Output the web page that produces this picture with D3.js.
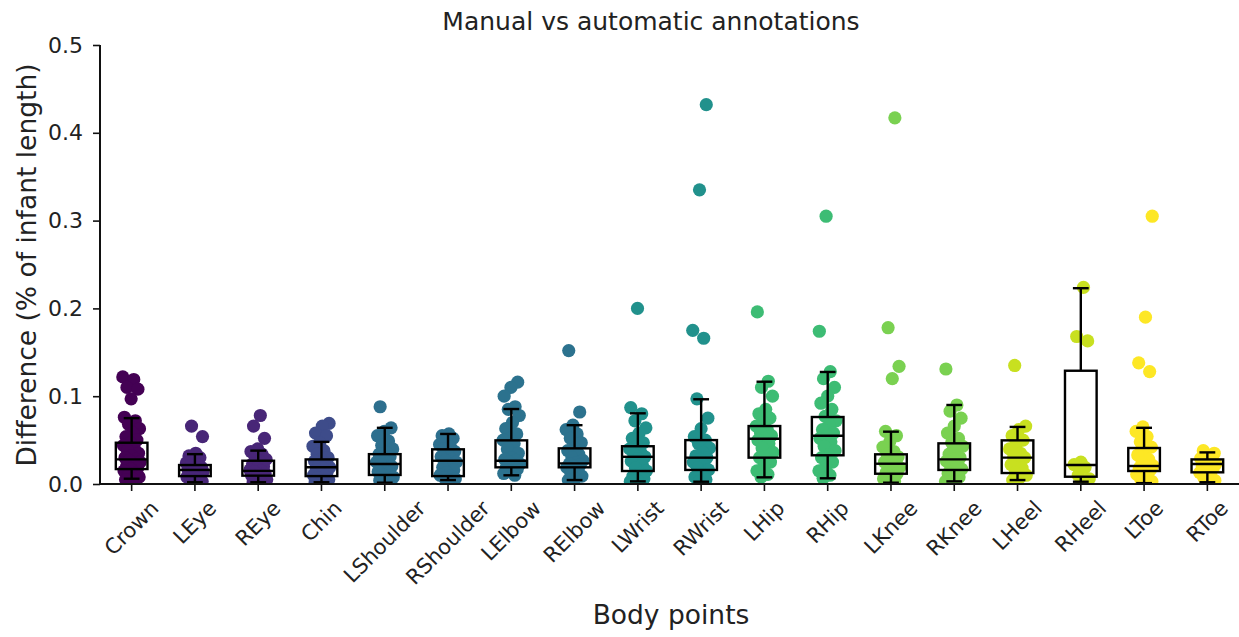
<!DOCTYPE html>
<html>
<head>
<meta charset="utf-8">
<script src="https://cdn.jsdelivr.net/npm/d3@7.9.0/dist/d3.min.js"></script>
<style>
  body { margin: 0; background: #fff; }
  svg { font-family: "DejaVu Sans", sans-serif; }
</style>
</head>
<body>
<svg id="chart" width="1239" height="637"></svg>
<script>
// body points on the x axis
const bodyPoints = ['Crown', 'LEye', 'REye', 'Chin', 'LShoulder', 'RShoulder', 'LElbow', 'RElbow',
  'LWrist', 'RWrist', 'LHip', 'RHip', 'LKnee', 'RKnee', 'LHeel', 'RHeel', 'LToe', 'RToe'];

// box stats
const whiskerLow  = [0.006, 0.002, 0.002, 0.002, 0.0015, 0.0045, 0.0099, 0.0045, 0.003, 0.0026, 0.0076, 0.0065, 0.0015, 0.003, 0.0045, 0.0026, 0.001, 0.002];
const q1          = [0.017, 0.009, 0.0095, 0.009, 0.0103, 0.009, 0.019, 0.019, 0.0148, 0.016, 0.030, 0.0327, 0.0117, 0.016, 0.0125, 0.0083, 0.0148, 0.0133];
const medians     = [0.028, 0.016, 0.015, 0.019, 0.0228, 0.0265, 0.0265, 0.0235, 0.031, 0.030, 0.0516, 0.055, 0.0231, 0.028, 0.030, 0.0216, 0.0205, 0.0228];
const q3          = [0.047, 0.0216, 0.0265, 0.028, 0.034, 0.0395, 0.0497, 0.0406, 0.043, 0.050, 0.066, 0.0763, 0.0338, 0.0463, 0.0497, 0.129, 0.041, 0.028];
const whiskerHigh = [0.075, 0.034, 0.038, 0.048, 0.064, 0.057, 0.0854, 0.067, 0.0805, 0.0965, 0.1165, 0.1276, 0.0596, 0.09, 0.065, 0.223, 0.064, 0.036];

// individual differences per body point
const crown = [0.122, 0.119, 0.110, 0.108, 0.097, 0.076, 0.072, 0.068, 0.063, 0.058, 0.054, 0.050, 0.047, 0.044, 0.041, 0.038, 0.035, 0.032, 0.030, 0.028, 0.027, 0.025, 0.022, 0.020, 0.018, 0.017, 0.015, 0.012, 0.010, 0.008, 0.006, 0.005];
const lEye = [0.066, 0.054, 0.035, 0.032, 0.030, 0.027, 0.024, 0.022, 0.021, 0.019, 0.018, 0.017, 0.016, 0.015, 0.014, 0.013, 0.011, 0.010, 0.009, 0.008, 0.006, 0.005, 0.003, 0.002];
const rEye = [0.078, 0.066, 0.052, 0.040, 0.037, 0.034, 0.031, 0.028, 0.026, 0.023, 0.020, 0.018, 0.016, 0.015, 0.014, 0.012, 0.011, 0.010, 0.009, 0.007, 0.005, 0.003, 0.002];
const chin = [0.069, 0.066, 0.058, 0.055, 0.047, 0.043, 0.038, 0.034, 0.030, 0.028, 0.026, 0.023, 0.021, 0.019, 0.018, 0.016, 0.014, 0.012, 0.010, 0.009, 0.007, 0.005, 0.003, 0.002];
const lShoulder = [0.088, 0.064, 0.060, 0.055, 0.049, 0.044, 0.040, 0.036, 0.034, 0.031, 0.028, 0.025, 0.023, 0.022, 0.020, 0.017, 0.014, 0.012, 0.010, 0.008, 0.006, 0.004, 0.002, 0.0015];
const rShoulder = [0.057, 0.055, 0.052, 0.048, 0.045, 0.042, 0.040, 0.037, 0.034, 0.031, 0.028, 0.027, 0.025, 0.022, 0.019, 0.016, 0.013, 0.010, 0.009, 0.007, 0.006, 0.0045];
const lElbow = [0.116, 0.110, 0.100, 0.088, 0.085, 0.078, 0.070, 0.063, 0.057, 0.052, 0.050, 0.046, 0.040, 0.035, 0.030, 0.028, 0.027, 0.025, 0.023, 0.021, 0.019, 0.017, 0.014, 0.012, 0.010];
const rElbow = [0.152, 0.082, 0.067, 0.062, 0.057, 0.052, 0.047, 0.041, 0.038, 0.034, 0.030, 0.027, 0.024, 0.023, 0.022, 0.020, 0.019, 0.016, 0.012, 0.009, 0.006, 0.0045];
const lWrist = [0.200, 0.087, 0.080, 0.072, 0.064, 0.058, 0.052, 0.047, 0.043, 0.040, 0.036, 0.033, 0.031, 0.029, 0.026, 0.022, 0.018, 0.015, 0.012, 0.009, 0.006, 0.004, 0.003];
const rWrist = [0.432, 0.335, 0.175, 0.166, 0.097, 0.075, 0.063, 0.054, 0.050, 0.046, 0.041, 0.036, 0.032, 0.030, 0.028, 0.025, 0.021, 0.018, 0.016, 0.012, 0.008, 0.005, 0.003];
const lHip = [0.196, 0.117, 0.110, 0.100, 0.085, 0.080, 0.075, 0.070, 0.066, 0.062, 0.058, 0.055, 0.052, 0.050, 0.046, 0.041, 0.036, 0.031, 0.030, 0.025, 0.020, 0.015, 0.011, 0.008];
const rHip = [0.305, 0.174, 0.128, 0.120, 0.110, 0.100, 0.092, 0.085, 0.077, 0.072, 0.067, 0.062, 0.058, 0.055, 0.052, 0.048, 0.043, 0.038, 0.033, 0.030, 0.025, 0.020, 0.015, 0.010, 0.0065];
const lKnee = [0.417, 0.178, 0.134, 0.120, 0.060, 0.055, 0.048, 0.042, 0.037, 0.034, 0.031, 0.028, 0.025, 0.023, 0.021, 0.019, 0.016, 0.013, 0.012, 0.009, 0.006, 0.003, 0.0015];
const rKnee = [0.131, 0.090, 0.083, 0.075, 0.066, 0.058, 0.052, 0.047, 0.043, 0.038, 0.034, 0.030, 0.028, 0.026, 0.023, 0.020, 0.017, 0.016, 0.012, 0.008, 0.005, 0.003];
const lHeel = [0.135, 0.066, 0.062, 0.055, 0.050, 0.045, 0.040, 0.035, 0.031, 0.030, 0.027, 0.022, 0.018, 0.013, 0.010, 0.007, 0.0045];
const rHeel = [0.224, 0.168, 0.163, 0.025, 0.022, 0.019, 0.010, 0.006, 0.003];
const lToe = [0.305, 0.190, 0.138, 0.128, 0.065, 0.060, 0.054, 0.048, 0.042, 0.038, 0.033, 0.028, 0.024, 0.021, 0.020, 0.018, 0.016, 0.014, 0.011, 0.008, 0.005, 0.003, 0.001];
const rToe = [0.038, 0.035, 0.032, 0.029, 0.027, 0.025, 0.023, 0.022, 0.020, 0.018, 0.015, 0.013, 0.010, 0.007, 0.004, 0.002];

const pointValues = [crown, lEye, rEye, chin, lShoulder, rShoulder, lElbow, rElbow,
  lWrist, rWrist, lHip, rHip, lKnee, rKnee, lHeel, rHeel, lToe, rToe];

const pointColors = ['#440154', '#482677', '#482677', '#3e4c8a', '#2d6f8e', '#2d6f8e', '#2c728e', '#2c728e',
  '#21918c', '#21918c', '#3dbc74', '#3dbc74', '#7ad151', '#7ad151', '#c8e020', '#c8e020', '#fde725', '#fde725'];

const yTicks = [0, 0.1, 0.2, 0.3, 0.4, 0.5];

const margin = { top: 45, right: 0, bottom: 153, left: 100 };
const width = 1239 - margin.left - margin.right;
const height = 637 - margin.top - margin.bottom;

const svg = d3.select('#chart');
const g = svg.append('g').attr('transform', `translate(${margin.left},${margin.top})`);

const x = d3.scaleBand().domain(bodyPoints).range([0, width]);
const y = d3.scaleLinear().domain([0, 0.5]).range([height, 0]);

svg.append('defs').append('clipPath').attr('id', 'plot-clip')
  .append('rect').attr('width', width).attr('height', height);

// strip points (deterministic jitter)
const jitter = x.bandwidth() * 0.14;
const strip = g.append('g').attr('clip-path', 'url(#plot-clip)');
pointValues.forEach((vals, i) => {
  const cx = x(bodyPoints[i]) + x.bandwidth() / 2;
  strip.selectAll(null)
    .data(vals)
    .join('circle')
    .attr('cx', (d, j) => cx + (((j * 0.618034 + i * 0.31) % 1) - 0.5) * 2 * jitter)
    .attr('cy', d => y(d))
    .attr('r', 6.6)
    .attr('fill', pointColors[i]);
});

// boxes
const boxW = x.bandwidth() * 0.5;
const boxes = g.append('g')
  .selectAll('g')
  .data(bodyPoints)
  .join('g')
  .attr('transform', d => `translate(${x(d) + x.bandwidth() / 2},0)`)
  .attr('stroke', '#000')
  .attr('stroke-width', 2.4)
  .attr('fill', 'none');

boxes.append('line')
  .attr('y1', (d, i) => y(whiskerLow[i])).attr('y2', (d, i) => y(q1[i]));
boxes.append('line')
  .attr('y1', (d, i) => y(q3[i])).attr('y2', (d, i) => y(whiskerHigh[i]));
boxes.append('line')
  .attr('x1', -boxW / 4).attr('x2', boxW / 4)
  .attr('y1', (d, i) => y(whiskerLow[i])).attr('y2', (d, i) => y(whiskerLow[i]));
boxes.append('line')
  .attr('x1', -boxW / 4).attr('x2', boxW / 4)
  .attr('y1', (d, i) => y(whiskerHigh[i])).attr('y2', (d, i) => y(whiskerHigh[i]));
boxes.append('rect')
  .attr('x', -boxW / 2).attr('width', boxW)
  .attr('y', (d, i) => y(q3[i]))
  .attr('height', (d, i) => y(q1[i]) - y(q3[i]));
boxes.append('line')
  .attr('x1', -boxW / 2).attr('x2', boxW / 2)
  .attr('y1', (d, i) => y(medians[i])).attr('y2', (d, i) => y(medians[i]));

// axes
const yAxis = g.append('g')
  .call(d3.axisLeft(y).tickValues(yTicks).tickFormat(d3.format('.1f')).tickSize(7).tickPadding(10));
const xAxis = g.append('g')
  .attr('transform', `translate(0,${height})`)
  .call(d3.axisBottom(x).tickSize(7).tickPadding(6));

[yAxis, xAxis].forEach(ax => {
  ax.select('.domain').attr('stroke', '#111').attr('stroke-width', 2);
  ax.selectAll('.tick line').attr('stroke', '#111').attr('stroke-width', 1.6);
  ax.selectAll('.tick text').attr('fill', '#222').attr('font-size', 21)
    .attr('font-family', '"DejaVu Sans", sans-serif');
});
yAxis.selectAll('.tick text').attr('font-size', 22);
yAxis.select('.domain').attr('d', `M0,${height}V0`);
xAxis.select('.domain').attr('d', `M0,0H${width}`);

// rotated category labels, centred under each tick
xAxis.selectAll('.tick text').each(function () {
  const t = d3.select(this);
  const len = this.getComputedTextLength();
  const off = (len + 16) * Math.SQRT1_2 / 2;
  t.attr('text-anchor', 'middle')
    .attr('dy', null)
    .attr('dominant-baseline', 'central')
    .attr('y', 0)
    .attr('transform', `translate(0,${15 + off}) rotate(-45)`);
});

svg.append('text')
  .attr('x', 651).attr('y', 30)
  .attr('text-anchor', 'middle')
  .attr('font-size', 25).attr('fill', '#222')
  .text('Manual vs automatic annotations');

svg.append('text')
  .attr('x', 671).attr('y', 624)
  .attr('text-anchor', 'middle')
  .attr('font-size', 26.5).attr('fill', '#222')
  .text('Body points');

svg.append('text')
  .attr('transform', 'translate(36,265) rotate(-90)')
  .attr('text-anchor', 'middle')
  .attr('font-size', 26.5).attr('fill', '#222')
  .text('Difference (% of infant length)');
</script>
</body>
</html>
